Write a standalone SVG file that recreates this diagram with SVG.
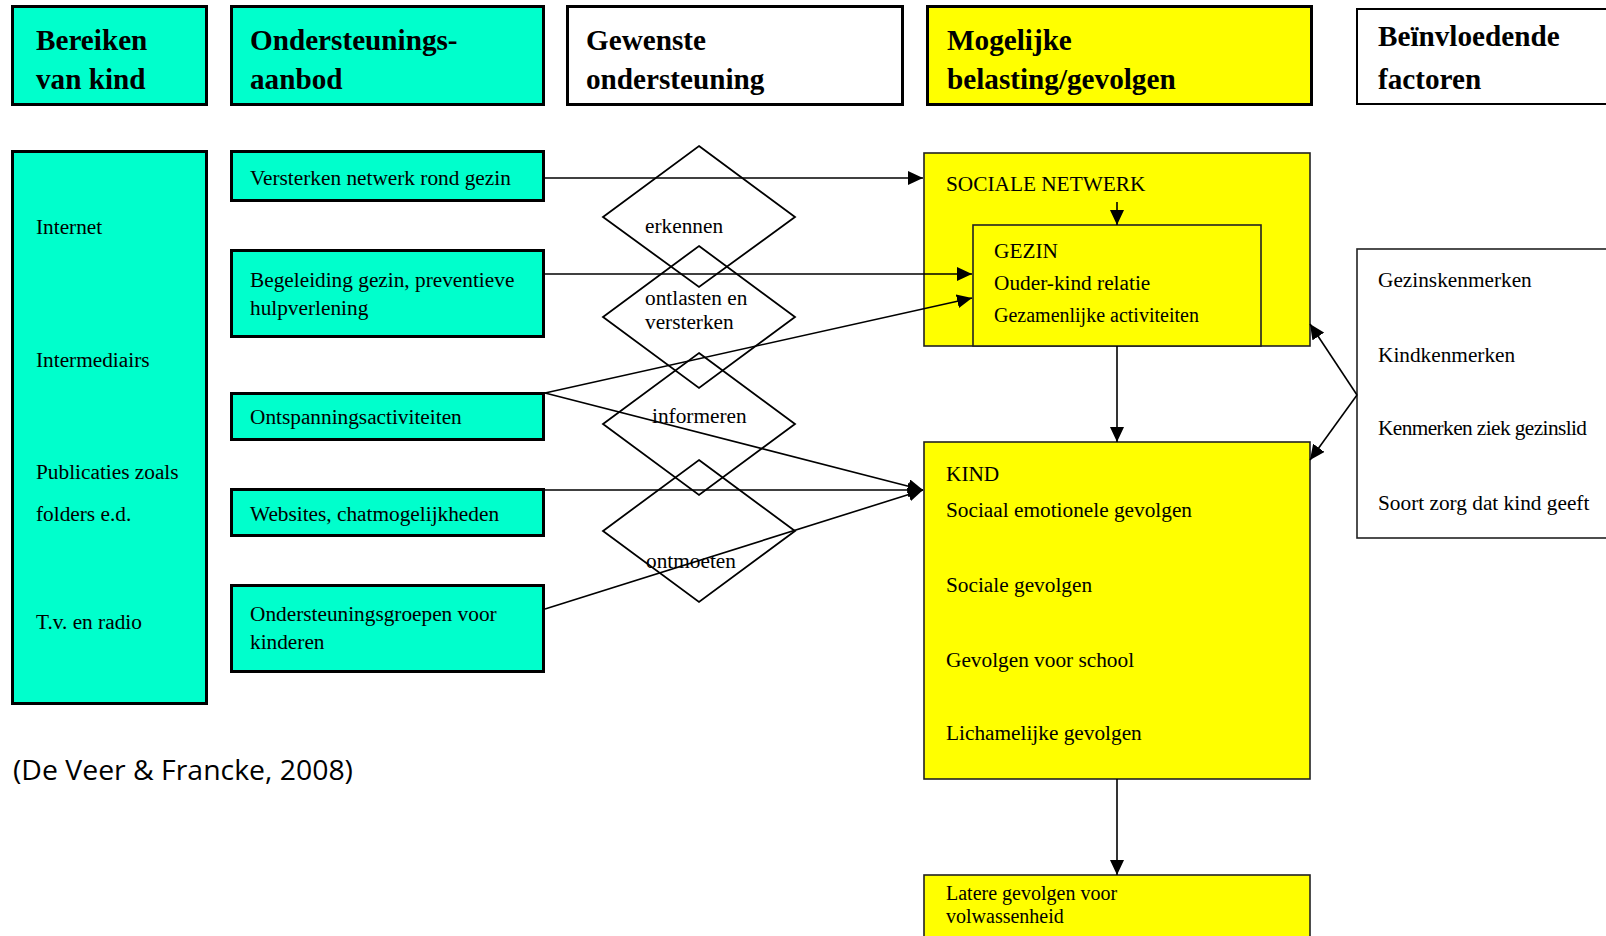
<svg xmlns="http://www.w3.org/2000/svg" width="1606" height="936" viewBox="0 0 1606 936">
<defs>
<style>
.hd{font-family:"Liberation Serif","Times New Roman",serif;font-weight:bold;font-size:29.2px;fill:#000}
.tx{font-family:"Liberation Serif","Times New Roman",serif;font-size:21.3px;fill:#000}
.sm{font-family:"Liberation Serif","Times New Roman",serif;font-size:20px;fill:#000}
.cy{fill:#00FFCC;stroke:#000;stroke-width:3}
.wh{fill:#fff;stroke:#000;stroke-width:3}
.yl{fill:#FFFF00;stroke:#000;stroke-width:3}
.yt{fill:#FFFF00;stroke:#222;stroke-width:1.6}
.wt{fill:#fff;stroke:#222;stroke-width:1.6}
.dm{fill:none;stroke:#000;stroke-width:1.8}
.cn{stroke:#000;stroke-width:1.6;fill:none;marker-end:url(#ah)}
</style>
<marker id="ah" markerUnits="userSpaceOnUse" markerWidth="16" markerHeight="14" refX="15" refY="7" orient="auto">
<path d="M0,0 L15,7 L0,14 z" fill="#000"/>
</marker>
</defs>
<rect width="1606" height="936" fill="#fff"/>

<g id="h-bereiken"><rect class="cy" x="12.5" y="6.5" width="194" height="98"/><text class="hd" x="36" y="50">Bereiken</text><text class="hd" x="36" y="89">van kind</text></g>
<g id="h-aanbod"><rect class="cy" x="231.5" y="6.5" width="312" height="98"/><text class="hd" x="250" y="50">Ondersteunings-</text><text class="hd" x="250" y="89">aanbod</text></g>
<g id="h-gewenst"><rect class="wh" x="567.5" y="6.5" width="335" height="98"/><text class="hd" x="586" y="50">Gewenste</text><text class="hd" x="586" y="89">ondersteuning</text></g>
<g id="h-belasting"><rect class="yl" x="927.5" y="6.5" width="384" height="98"/><text class="hd" x="947" y="50">Mogelijke</text><text class="hd" x="947" y="89">belasting/gevolgen</text></g>
<g id="h-factoren"><rect x="1357" y="9" width="260" height="95" fill="#fff" stroke="#000" stroke-width="2"/><text class="hd" x="1378" y="46">Beïnvloedende</text><text class="hd" x="1378" y="89">factoren</text></g>

<g id="bereiken"><rect class="cy" x="12.5" y="151.5" width="194" height="552"/>
<text class="tx" x="36" y="234">Internet</text>
<text class="tx" x="36" y="367">Intermediairs</text>
<text class="tx" x="36" y="479">Publicaties zoals</text>
<text class="tx" x="36" y="521">folders e.d.</text>
<text class="tx" x="36" y="629">T.v. en radio</text></g>

<g id="versterken"><rect class="cy" x="231.5" y="151.5" width="312" height="49"/><text class="tx" x="250" y="185">Versterken netwerk rond gezin</text></g>
<g id="begeleiding"><rect class="cy" x="231.5" y="250.5" width="312" height="86"/><text class="tx" x="250" y="287">Begeleiding gezin, preventieve</text><text class="tx" x="250" y="315">hulpverlening</text></g>
<g id="ontspanning"><rect class="cy" x="231.5" y="393.5" width="312" height="46"/><text class="tx" x="250" y="424">Ontspanningsactiviteiten</text></g>
<g id="websites"><rect class="cy" x="231.5" y="489.5" width="312" height="46"/><text class="tx" x="250" y="521">Websites, chatmogelijkheden</text></g>
<g id="groepen"><rect class="cy" x="231.5" y="585.5" width="312" height="86"/><text class="tx" x="250" y="621">Ondersteuningsgroepen voor</text><text class="tx" x="250" y="649">kinderen</text></g>

<g id="sociale"><rect class="yt" x="924" y="153" width="386" height="193"/><text class="tx" x="946" y="191">SOCIALE NETWERK</text></g>
<g id="gezin"><rect class="yt" x="973" y="225" width="288" height="121"/><text class="tx" x="994" y="258">GEZIN</text><text class="tx" x="994" y="290">Ouder-kind relatie</text><text class="sm" x="994" y="322">Gezamenlijke activiteiten</text></g>
<g id="kind"><rect class="yt" x="924" y="442" width="386" height="337"/>
<text class="tx" x="946" y="481">KIND</text>
<text class="tx" x="946" y="517">Sociaal emotionele gevolgen</text>
<text class="tx" x="946" y="592">Sociale gevolgen</text>
<text class="tx" x="946" y="667">Gevolgen voor school</text>
<text class="tx" x="946" y="740">Lichamelijke gevolgen</text></g>
<g id="latere"><rect class="yt" x="924" y="875" width="386" height="70"/><text class="sm" x="946" y="900">Latere gevolgen voor</text><text class="sm" x="946" y="923">volwassenheid</text></g>
<g id="factoren"><rect class="wt" x="1357" y="249" width="260" height="289"/>
<text class="tx" x="1378" y="287">Gezinskenmerken</text>
<text class="tx" x="1378" y="362">Kindkenmerken</text>
<text class="tx" x="1378" y="435" textLength="209">Kenmerken ziek gezinslid</text>
<text class="tx" x="1378" y="510">Soort zorg dat kind geeft</text></g>

<g id="connectors">
<line class="cn" x1="545" y1="178" x2="923" y2="178"/>
<line class="cn" x1="545" y1="274" x2="972" y2="274"/>
<line class="cn" x1="545" y1="393" x2="972" y2="298"/>
<line class="cn" x1="545" y1="393" x2="923" y2="490"/>
<line class="cn" x1="545" y1="490" x2="923" y2="490"/>
<line class="cn" x1="545" y1="609" x2="923" y2="490"/>
<line class="cn" x1="1117" y1="202" x2="1117" y2="225"/>
<line class="cn" x1="1117" y1="346" x2="1117" y2="442"/>
<line class="cn" x1="1117" y1="779" x2="1117" y2="875"/>
<line class="cn" x1="1357" y1="395" x2="1310" y2="324"/>
<line class="cn" x1="1357" y1="395" x2="1310" y2="460"/>
</g>

<g id="diamond-erkennen"><polygon class="dm" points="699,146 795,217 699,287 603,217"/><text class="tx" x="645" y="233">erkennen</text></g>
<g id="diamond-ontlasten"><polygon class="dm" points="699,246 795,317 699,388 603,317"/><text class="tx" x="645" y="305">ontlasten en</text><text class="tx" x="645" y="329">versterken</text></g>
<g id="diamond-informeren"><polygon class="dm" points="699,353 795,424 699,495 603,424"/><text class="tx" x="652" y="423">informeren</text></g>
<g id="diamond-ontmoeten"><polygon class="dm" points="699,460 795,531 699,602 603,531"/><text class="tx" x="646" y="568">ontmoeten</text></g>

<text x="13" y="780" font-family="'Open Sans','Liberation Sans',sans-serif" font-size="28" textLength="340" lengthAdjust="spacingAndGlyphs" fill="#000">(De Veer &amp; Francke, 2008)</text>
</svg>
